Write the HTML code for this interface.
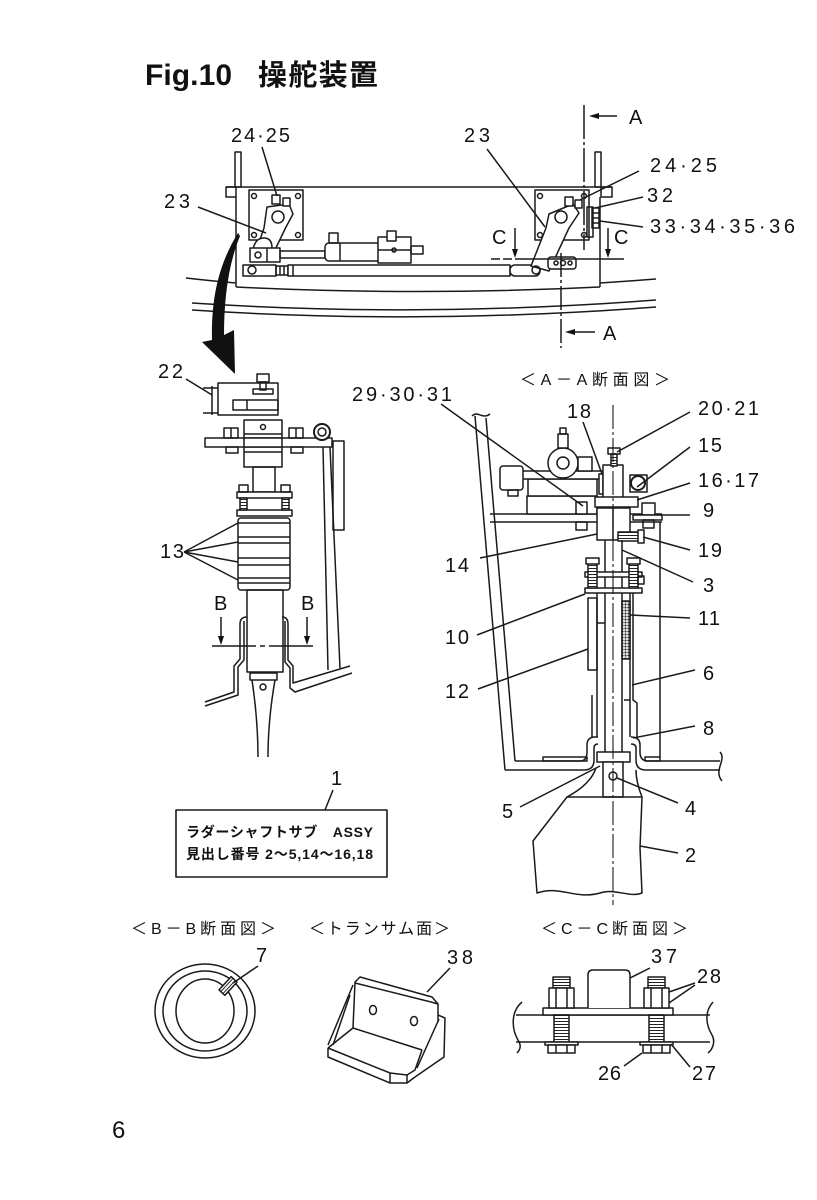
<!DOCTYPE html>
<html><head><meta charset="utf-8">
<style>
html,body{margin:0;padding:0;background:#fff;}
svg{display:block;}
text{font-family:"Liberation Sans","Noto Sans CJK JP",sans-serif;fill:#111;}
.j{font-family:"Liberation Sans","Noto Sans CJK JP",sans-serif;}
</style></head><body>
<svg width="817" height="1200" viewBox="0 0 817 1200" xmlns="http://www.w3.org/2000/svg">
<defs>
<pattern id="dots" width="3" height="3" patternUnits="userSpaceOnUse"><rect width="3" height="3" fill="#fff"/><circle cx="1.5" cy="1.5" r="1.1" fill="#222"/></pattern>
<pattern id="th" width="4" height="3" patternUnits="userSpaceOnUse"><rect width="4" height="3" fill="#fff"/><line x1="0" y1="1.5" x2="4" y2="1.5" stroke="#222" stroke-width="1"/></pattern>
</defs>
<rect width="817" height="1200" fill="#fff"/>

<!-- Title -->
<text x="145" y="85" font-size="30" font-weight="bold" textLength="87">Fig.10</text>
<text x="258" y="85" font-size="29" font-weight="bold" textLength="120" class="j">操舵装置</text>

<g fill="none" stroke="#1a1a1a" stroke-width="1.5" stroke-linejoin="round">
<!-- ================= TOP VIEW ================= -->
<rect x="235" y="152" width="6" height="35"/>
<rect x="595" y="152" width="6" height="35"/>
<rect x="226" y="187" width="10" height="10"/>
<rect x="601" y="187" width="11" height="10"/>
<line x1="226" y1="187" x2="612" y2="187"/>
<line x1="236" y1="197" x2="236" y2="287"/>
<line x1="600" y1="197" x2="600" y2="287"/>
<path d="M236,287 Q418,296 600,287"/>
<path d="M186,278 Q212,281 236,283"/>
<path d="M600,283 Q630,281 656,279"/>
<path d="M192,303 Q420,318 656,300"/>
<path d="M192,310 Q420,325 656,307"/>

<!-- left plate and arm -->
<rect x="249" y="190" width="54" height="50"/>
<circle cx="254" cy="196" r="2.5"/><circle cx="298" cy="196" r="2.5"/>
<circle cx="254" cy="235" r="2.5"/><circle cx="298" cy="235" r="2.5"/>
<path d="M267,207 L289,204 L293,214 L286,227 L273,254 L256,251 L264,228 Z" fill="#fff"/>
<circle cx="278" cy="217" r="6"/>
<rect x="272" y="195" width="8" height="9" fill="#fff"/>
<rect x="283" y="198" width="7" height="8" fill="#fff"/>
<path d="M253,250 Q255,238 264,238 Q272,238 272,248" fill="#fff"/>
<rect x="250" y="248" width="30" height="14" fill="#fff"/>
<line x1="267" y1="248" x2="267" y2="262"/>
<circle cx="258" cy="255" r="3"/>
<rect x="280" y="251" width="45" height="7"/>
<rect x="325" y="243" width="62" height="18" rx="4" fill="#fff"/>
<line x1="340" y1="243" x2="340" y2="261"/>
<rect x="329" y="233" width="9" height="10"/>
<rect x="378" y="237" width="33" height="26" fill="#fff"/>
<rect x="387" y="231" width="9" height="10" fill="#fff"/>
<line x1="378" y1="250" x2="411" y2="250"/>
<circle cx="394" cy="250" r="2"/>
<rect x="411" y="246" width="12" height="8"/>
<rect x="243" y="265" width="33" height="11" fill="#fff"/>
<circle cx="252" cy="270" r="4"/>
<rect x="276" y="266" width="12" height="9"/>
<line x1="280" y1="266" x2="280" y2="275"/><line x1="284" y1="266" x2="284" y2="275"/>
<rect x="288" y="265" width="222" height="11" fill="#fff"/>
<line x1="293" y1="265" x2="293" y2="276"/>

<!-- right plate and arm -->
<rect x="535" y="190" width="54" height="50"/>
<circle cx="540" cy="196" r="2.5"/><circle cx="584" cy="196" r="2.5"/>
<circle cx="540" cy="235" r="2.5"/><circle cx="584" cy="235" r="2.5"/>
<rect x="510" y="265" width="30" height="11" rx="5" fill="#fff"/>
<path d="M549,214 L573,204 L579,213 L569,228 L549,271 L531,266 L546,228 Z" fill="#fff"/>
<circle cx="561" cy="217" r="6"/>
<rect x="565" y="197" width="8" height="9" fill="#fff"/>
<rect x="575" y="200" width="7" height="8" fill="#fff"/>
<circle cx="536" cy="270" r="4"/>
<rect x="548" y="257" width="28" height="12" rx="3" fill="#fff"/>
<circle cx="556" cy="263" r="2"/><circle cx="563" cy="263" r="2.5"/><circle cx="570" cy="263" r="2"/>
<rect x="587" y="207" width="6" height="30"/>
<rect x="592" y="208" width="7" height="20"/>
<line x1="592" y1="213" x2="599" y2="213"/><line x1="592" y1="218" x2="599" y2="218"/><line x1="592" y1="223" x2="599" y2="223"/>

<!-- section lines -->
<path d="M491,259 L500,259 M503,259 L512,259 M515,259 L624,259"/>
<line x1="515" y1="228" x2="515" y2="252"/>
<line x1="608" y1="228" x2="608" y2="252"/>
<path d="M584,105 L584,250" stroke-dasharray="34,3,3,3"/>
<path d="M561,253 L561,348" stroke-dasharray="24,3,3,3"/>
<line x1="596" y1="116" x2="617" y2="116"/>
<line x1="572" y1="332" x2="595" y2="332"/>

<!-- leaders top -->
<line x1="262" y1="147" x2="277" y2="196"/>
<line x1="198" y1="207" x2="266" y2="233"/>
<line x1="487" y1="149" x2="545" y2="227"/>
<line x1="639" y1="171" x2="580" y2="200"/>
<line x1="643" y1="197" x2="595" y2="208"/>
<line x1="643" y1="227" x2="600" y2="221"/>

<!-- ================= LEFT ELEVATION ================= -->
<line x1="186" y1="379" x2="212" y2="395"/>
<line x1="203" y1="388" x2="218" y2="388"/>
<line x1="203" y1="413" x2="218" y2="413"/>
<line x1="212" y1="386" x2="212" y2="415"/>
<rect x="218" y="383" width="60" height="32" fill="#fff"/>
<rect x="233" y="400" width="45" height="10"/>
<line x1="247" y1="400" x2="247" y2="410"/>
<rect x="257" y="374" width="12" height="8"/>
<rect x="260" y="382" width="6" height="8"/>
<rect x="253" y="389" width="20" height="5"/>
<rect x="244" y="420" width="38" height="47" fill="#fff"/>
<circle cx="263" cy="427" r="2.5"/>
<line x1="244" y1="434" x2="282" y2="434"/>
<line x1="244" y1="452" x2="282" y2="452"/>
<rect x="205" y="438" width="127" height="9" fill="#fff"/>
<rect x="244" y="438" width="38" height="9" fill="#fff"/>
<rect x="224" y="428" width="14" height="10"/><line x1="231" y1="428" x2="231" y2="438"/>
<rect x="226" y="447" width="12" height="6"/>
<rect x="289" y="428" width="14" height="10"/><line x1="296" y1="428" x2="296" y2="438"/>
<rect x="291" y="447" width="12" height="6"/>
<circle cx="322" cy="432" r="8" fill="#fff" stroke-width="2"/>
<circle cx="322" cy="432" r="4"/>
<rect x="333" y="441" width="11" height="89"/>
<line x1="323" y1="447" x2="328" y2="670"/>
<line x1="330" y1="447" x2="340" y2="668"/>
<rect x="253" y="467" width="22" height="25"/>
<rect x="237" y="492" width="55" height="6" fill="#fff"/>
<rect x="237" y="510" width="55" height="6" fill="#fff"/>
<rect x="239" y="485" width="9" height="7"/><rect x="240" y="498" width="7" height="12" fill="url(#th)"/>
<rect x="281" y="485" width="9" height="7"/><rect x="282" y="498" width="7" height="12" fill="url(#th)"/>
<rect x="238" y="518" width="52" height="72" rx="3" fill="#fff"/>
<line x1="238" y1="523" x2="290" y2="523"/>
<line x1="238" y1="537" x2="290" y2="537"/>
<line x1="238" y1="543" x2="290" y2="543"/>
<line x1="238" y1="558" x2="290" y2="558"/>
<line x1="238" y1="565" x2="290" y2="565"/>
<line x1="238" y1="578" x2="290" y2="578"/>
<line x1="238" y1="583" x2="290" y2="583"/>
<line x1="184" y1="552" x2="238" y2="523"/>
<line x1="184" y1="552" x2="238" y2="542"/>
<line x1="184" y1="552" x2="238" y2="562"/>
<line x1="184" y1="552" x2="238" y2="580"/>
<rect x="247" y="590" width="36" height="82"/>
<path d="M247,617 Q240,617 240,624 L240,659 L234,666 L234,692 L205,702"/>
<path d="M244,621 L244,660 L238,667 L238,695 L205,706"/>
<path d="M282,617 Q288,617 288,624 L288,660 L293,666 L293,683 L350,666"/>
<path d="M285,621 L285,662 L290,668 L290,688 L295,692 L352,673"/>
<rect x="250" y="673" width="27" height="7"/>
<path d="M252,680 Q258,720 258,757 M275,680 Q268,720 268,757"/>
<circle cx="263" cy="687" r="3"/>
<line x1="221" y1="617" x2="221" y2="638"/>
<line x1="307" y1="617" x2="307" y2="638"/>
<path d="M212,646 L256,646 M260,646 L265,646 M269,646 L313,646"/>

<!-- ================= A-A SECTION ================= -->
<line x1="475" y1="416" x2="505" y2="770"/>
<line x1="486" y1="418" x2="515" y2="761"/>
<path d="M472,416 C478,410 482,420 490,414"/>
<path d="M515,761 L580,761 Q587,761 587,752 L587,745 Q587,737 595,737 L598,737"/>
<path d="M505,770 L584,770 Q594,770 594,760 L594,748 Q594,744 598,744"/>
<path d="M631,737 Q640,737 640,745 L640,752 Q640,761 648,761 L720,761"/>
<path d="M631,744 Q636,744 636,748 L636,760 Q636,770 646,770 L720,770"/>
<path d="M720,752 C727,760 713,770 722,781"/>
<rect x="543" y="757" width="44" height="4"/>
<rect x="645" y="757" width="15" height="4"/>
<line x1="660" y1="522" x2="660" y2="757"/>
<path d="M490,514 L597,514 M490,522 L597,522"/>
<path d="M630,514 L662,514 M630,522 L662,522"/>
<!-- top mechanism -->
<rect x="527" y="496" width="70" height="18" fill="#fff"/>
<rect x="528" y="479" width="69" height="17" fill="#fff"/>
<rect x="520" y="471" width="87" height="8" fill="#fff"/>
<rect x="500" y="466" width="23" height="24" rx="3" fill="#fff"/>
<rect x="508" y="490" width="10" height="6"/>
<circle cx="563" cy="463" r="15" fill="#fff"/>
<circle cx="563" cy="463" r="6"/>
<rect x="558" y="434" width="10" height="14" fill="#fff"/>
<rect x="560" y="428" width="6" height="6"/>
<rect x="578" y="457" width="14" height="14" fill="#fff"/>
<rect x="576" y="502" width="11" height="12" fill="#fff"/>
<rect x="576" y="522" width="11" height="8"/>
<rect x="599" y="474" width="4" height="20" fill="#fff"/>
<rect x="603" y="465" width="20" height="38" fill="#fff"/>
<rect x="608" y="448" width="12" height="6"/>
<rect x="611" y="454" width="6" height="12" fill="url(#th)"/>
<rect x="630" y="475" width="17" height="17" fill="#fff"/>
<circle cx="638" cy="483" r="7" stroke-width="2"/>
<rect x="595" y="497" width="43" height="10" fill="#fff"/>
<rect x="597" y="508" width="33" height="32" fill="#fff"/>
<line x1="613" y1="508" x2="613" y2="540"/>
<rect x="642" y="503" width="13" height="12" fill="#fff"/>
<rect x="633" y="515" width="29" height="5" fill="#fff"/>
<rect x="643" y="520" width="11" height="8"/>
<rect x="618" y="532" width="21" height="9" fill="url(#th)"/>
<rect x="638" y="530" width="6" height="13" fill="#fff"/>
<!-- shaft and tube -->
<line x1="605" y1="540" x2="605" y2="797"/>
<line x1="622" y1="540" x2="622" y2="797"/>
<rect x="585" y="572" width="57" height="5" fill="#fff"/>
<rect x="585" y="588" width="57" height="5" fill="#fff"/>
<rect x="588" y="560" width="9" height="28" fill="url(#th)"/>
<rect x="586" y="558" width="13" height="6" fill="#fff"/>
<rect x="629" y="560" width="9" height="28" fill="url(#th)"/>
<rect x="627" y="558" width="13" height="6" fill="#fff"/>
<rect x="638" y="576" width="6" height="8"/>
<rect x="588" y="598" width="9" height="72"/>
<line x1="597" y1="593" x2="597" y2="737"/>
<line x1="597" y1="623" x2="605" y2="623"/>
<line x1="630" y1="593" x2="630" y2="737"/>
<path d="M633,593 L633,700 L637,703 L637,737"/>
<path d="M592,695 L592,737"/>
<rect x="622" y="601" width="8" height="58" fill="url(#dots)"/>
<line x1="624" y1="700" x2="630" y2="700"/>
<rect x="597" y="752" width="33" height="10" fill="#fff"/>
<rect x="603" y="762" width="20" height="35" fill="#fff"/>
<circle cx="613" cy="776" r="4"/>
<!-- rudder -->
<path d="M567,797 L642,797 L640,848 L642,893 C630,898 615,888 600,893 C575,900 560,885 537,893 L533,841 Z"/>
<path d="M567,797 C580,790 592,780 596,768"/>
<path d="M642,797 C638,787 636,778 636,770"/>
<path d="M613,405 L613,905" stroke-dasharray="24,3,3,3" stroke-width="1.1"/>
<!-- leaders A-A -->
<line x1="441" y1="404" x2="583" y2="506"/>
<line x1="583" y1="422" x2="602" y2="474"/>
<line x1="690" y1="412" x2="617" y2="452"/>
<line x1="690" y1="447" x2="637" y2="487"/>
<line x1="690" y1="483" x2="637" y2="500"/>
<line x1="690" y1="515" x2="660" y2="515"/>
<line x1="690" y1="550" x2="643" y2="537"/>
<line x1="693" y1="582" x2="622" y2="550"/>
<line x1="690" y1="618" x2="630" y2="615"/>
<line x1="480" y1="558" x2="597" y2="534"/>
<line x1="477" y1="635" x2="585" y2="594"/>
<line x1="478" y1="689" x2="588" y2="649"/>
<line x1="695" y1="670" x2="632" y2="685"/>
<line x1="695" y1="726" x2="633" y2="738"/>
<line x1="520" y1="807" x2="600" y2="766"/>
<line x1="678" y1="803" x2="617" y2="778"/>
<line x1="678" y1="853" x2="640" y2="846"/>

<!-- ================= LABEL BOX ================= -->
<rect x="176" y="810" width="211" height="67" stroke-width="1.6"/>
<line x1="333" y1="790" x2="325" y2="810"/>

<!-- ================= B-B ================= -->
<ellipse cx="205" cy="1011" rx="50" ry="47"/>
<ellipse cx="205" cy="1011" rx="42" ry="40"/>
<ellipse cx="205" cy="1011" rx="29" ry="32"/>
<g transform="translate(228,986) rotate(-47)">
<rect x="-9" y="-4" width="18" height="8" fill="url(#th)"/>
</g>
<line x1="258" y1="966" x2="233" y2="983"/>

<!-- ================= 38 bracket ================= -->
<path d="M353,1028 L355,982 L360,977 L432,997 L438,1004 L438,1022"/>
<path d="M355,983 L431,1002 L438,1004"/>
<line x1="353" y1="1028" x2="422" y2="1050"/>
<path d="M328,1048 L353,1028"/>
<path d="M328,1048 L390,1073 L407,1075 L415,1070 L422,1050"/>
<path d="M328,1048 L328,1057 L390,1083 L407,1083 L415,1077"/>
<line x1="390" y1="1073" x2="390" y2="1083"/>
<line x1="407" y1="1075" x2="407" y2="1083"/>
<path d="M438,1015 L445,1018 L444,1057 L415,1077"/>
<line x1="417" y1="1068" x2="439" y2="1019"/>
<path d="M353,985 L328,1045"/>
<path d="M350,995 L333,1045"/>
<ellipse cx="373" cy="1010" rx="3.5" ry="4.5"/>
<ellipse cx="414" cy="1021" rx="3.5" ry="4.5"/>
<line x1="450" y1="968" x2="427" y2="992"/>

<!-- ================= C-C ================= -->
<line x1="516" y1="1015" x2="710" y2="1015"/>
<line x1="516" y1="1042" x2="710" y2="1042"/>
<path d="M522,1002 C510,1012 512,1030 518,1040 C522,1046 520,1050 517,1053"/>
<path d="M713,1002 C704,1012 706,1025 712,1035 C716,1042 712,1050 708,1053"/>
<rect x="543" y="1008" width="130" height="7" fill="#fff"/>
<path d="M588,1008 L588,975 Q588,970 593,970 L625,970 Q630,970 630,975 L630,1008" fill="#fff"/>
<rect x="553" y="977" width="17" height="11" fill="url(#th)"/>
<rect x="549" y="988" width="25" height="20" fill="#fff"/>
<line x1="556" y1="988" x2="556" y2="1008"/><line x1="567" y1="988" x2="567" y2="1008"/>
<rect x="554" y="1015" width="15" height="27" fill="url(#th)"/>
<rect x="545" y="1042" width="33" height="3" fill="#fff"/>
<rect x="548" y="1045" width="27" height="8" fill="#fff"/>
<line x1="556" y1="1045" x2="556" y2="1053"/><line x1="567" y1="1045" x2="567" y2="1053"/>
<rect x="648" y="977" width="17" height="11" fill="url(#th)"/>
<rect x="644" y="988" width="25" height="20" fill="#fff"/>
<line x1="651" y1="988" x2="651" y2="1008"/><line x1="662" y1="988" x2="662" y2="1008"/>
<rect x="649" y="1015" width="15" height="27" fill="url(#th)"/>
<rect x="640" y="1042" width="33" height="3" fill="#fff"/>
<rect x="643" y="1045" width="27" height="8" fill="#fff"/>
<line x1="651" y1="1045" x2="651" y2="1053"/><line x1="662" y1="1045" x2="662" y2="1053"/>
<line x1="650" y1="968" x2="630" y2="978"/>
<line x1="695" y1="983" x2="669" y2="992"/>
<line x1="695" y1="985" x2="669" y2="1003"/>
<line x1="624" y1="1066" x2="642" y2="1053"/>
<line x1="690" y1="1067" x2="671" y2="1044"/>
</g>

<!-- filled arrowheads -->
<g fill="#111" stroke="none">
<path d="M238,233 C220,262 211,295 212,340 L202,342 L235,374 L234,330 L224,335 C224,300 228,265 240,236 Z"/>
<polygon points="512,249 518,249 515,258"/>
<polygon points="605,249 611,249 608,258"/>
<polygon points="589,116 599,113 599,119"/>
<polygon points="565,332 575,329 575,335"/>
<polygon points="218,636 224,636 221,645"/>
<polygon points="304,636 310,636 307,645"/>
</g>

<!-- labels -->
<g font-size="20">
<text x="231" y="142" textLength="59">24·25</text>
<text x="164" y="208" textLength="26">23</text>
<text x="464" y="142" textLength="26">23</text>
<text x="650" y="172" textLength="67">24·25</text>
<text x="647" y="202" textLength="26">32</text>
<text x="650" y="233" textLength="145">33·34·35·36</text>
<text x="629" y="124">A</text>
<text x="603" y="340">A</text>
<text x="492" y="244">C</text>
<text x="614" y="244">C</text>

<text x="158" y="378" textLength="25">22</text>
<text x="160" y="558" textLength="24">13</text>
<text x="214" y="610">B</text>
<text x="301" y="610">B</text>

<text x="352" y="401" textLength="100">29·30·31</text>
<text x="567" y="418" textLength="24">18</text>
<text x="698" y="415" textLength="61">20·21</text>
<text x="698" y="452" textLength="24">15</text>
<text x="698" y="487" textLength="61">16·17</text>
<text x="703" y="517">9</text>
<text x="698" y="557" textLength="24">19</text>
<text x="703" y="592">3</text>
<text x="698" y="625" textLength="22">11</text>
<text x="445" y="572" textLength="24">14</text>
<text x="445" y="644" textLength="24">10</text>
<text x="445" y="698" textLength="24">12</text>
<text x="703" y="680">6</text>
<text x="703" y="735">8</text>
<text x="502" y="818">5</text>
<text x="685" y="815">4</text>
<text x="685" y="862">2</text>

<text x="331" y="785">1</text>
<text x="256" y="962">7</text>
<text x="447" y="964" textLength="26">38</text>
<text x="651" y="963" textLength="26">37</text>
<text x="697" y="983" textLength="24">28</text>
<text x="598" y="1080" textLength="23">26</text>
<text x="692" y="1080" textLength="24">27</text>
</g>

<text x="520" y="385" font-size="16" textLength="150">＜A－A断面図＞</text>
<text x="131" y="934" font-size="16" textLength="145">＜B－B断面図＞</text>
<text x="309" y="934" font-size="16" textLength="141">＜トランサム面＞</text>
<text x="541" y="934" font-size="16" textLength="147">＜C－C断面図＞</text>

<text x="186" y="837" font-size="14" font-weight="bold" textLength="187">ラダーシャフトサブ　ASSY</text>
<text x="186" y="859" font-size="14" font-weight="bold" textLength="187">見出し番号 2～5,14～16,18</text>

<text x="112" y="1138" font-size="24">6</text>
</svg>
</body></html>
